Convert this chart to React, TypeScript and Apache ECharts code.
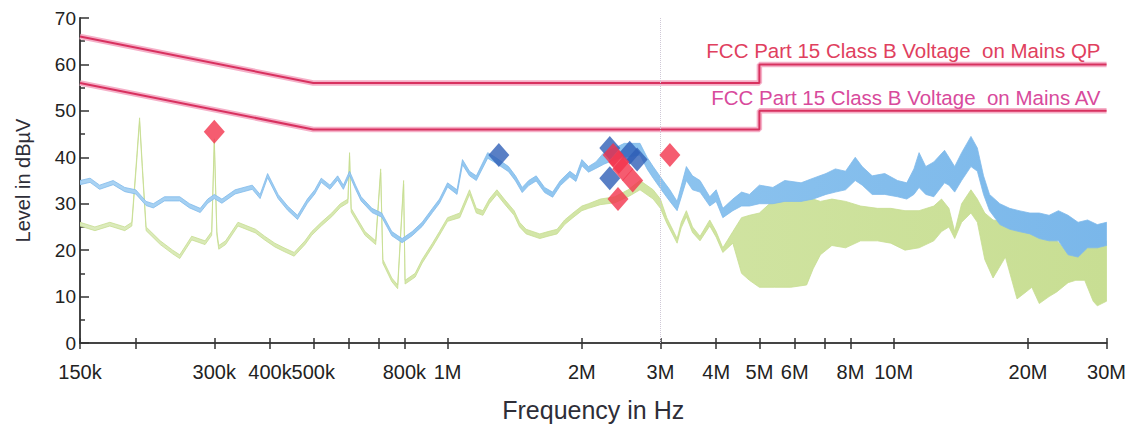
import React, { useEffect, useRef } from 'react';
import * as echarts from 'echarts';

// ---- axis ticks / labels ----
const xTickValues = [150e3, 200e3, 300e3, 400e3, 500e3, 600e3, 700e3, 800e3, 1e6, 2e6, 3e6, 4e6, 5e6, 6e6, 7e6, 8e6, 10e6, 20e6, 30e6];
const xLabelValues = [150e3, 300e3, 400e3, 500e3, 800e3, 1e6, 2e6, 3e6, 4e6, 5e6, 6e6, 8e6, 10e6, 20e6, 30e6];

// ---- limit lines (Hz, dBµV) ----
const qpLimit = [[150e3, 66], [500e3, 56], [5e6, 56], [5e6, 60], [30e6, 60]];
const avLimit = [[150e3, 56], [500e3, 46], [5e6, 46], [5e6, 50], [30e6, 50]];
const qpLabel = 'FCC Part 15 Class B Voltage  on Mains QP';
const avLabel = 'FCC Part 15 Class B Voltage  on Mains AV';

// ---- blue (peak) pre-scan trace: freq in kHz, upper / lower envelope ----
const blueFreqK = [150, 158, 166, 178, 189, 200, 211, 219, 232, 251, 264, 279, 290, 300, 312, 334, 365, 380, 395, 417, 438, 461, 485, 504, 521, 545, 567, 584, 603, 622, 640, 677, 712, 750, 791, 833, 877, 925, 959, 1000, 1050, 1080, 1120, 1160, 1230, 1280, 1370, 1420, 1470, 1520, 1580, 1650, 1720, 1790, 1880, 1940, 2000, 2070, 2150, 2240, 2370, 2490, 2700, 2800, 2890, 3040, 3150, 3270, 3430, 3540, 3680, 3870, 4000, 4140, 4360, 4560, 4750, 5000, 5360, 5700, 6200, 6600, 7050, 7400, 7800, 8200, 8500, 8950, 9550, 10200, 10700, 11100, 11400, 11800, 12300, 13000, 13300, 13700, 14200, 14900, 15400, 15900, 16400, 17300, 18200, 19100, 20200, 21200, 22300, 23400, 24600, 25900, 27200, 28600, 30000];
const blueHi = [35, 35.5, 34, 35, 33.5, 33, 30.5, 30, 31.5, 31.5, 30, 29, 31, 32, 31, 33, 34, 32, 36.5, 32, 29.5, 27.5, 31, 33, 35.5, 34, 36, 34, 37, 34, 31.5, 29, 28, 24, 22.5, 24, 26, 29, 31, 34.5, 33, 39.5, 37, 36, 41, 40, 38, 36, 33.5, 35, 36, 33.5, 32.5, 35, 37, 36, 39.5, 38, 39, 41, 42, 43, 43, 40, 38, 35, 33, 30.5, 38, 36, 35, 31.5, 33, 29, 31, 32.5, 32, 34, 33.5, 35, 34.5, 35.5, 36.5, 37.5, 37, 40, 38, 36, 36.5, 35, 34.5, 37.5, 41, 38, 39, 41.5, 40, 38, 41, 44.5, 42, 36, 32, 30, 29, 28.5, 28, 28, 27.5, 28.5, 27.5, 26, 26.5, 25.5, 26];
const blueLo = [34.1, 34.6, 33.1, 34.1, 32.6, 32.1, 29.6, 29.1, 30.6, 30.6, 29.1, 28.1, 30.1, 31.1, 30.1, 32.1, 33.1, 31.1, 35.6, 31.1, 28.6, 26.6, 30.1, 32.1, 34.6, 33.1, 35.1, 33.1, 36.1, 33.1, 30.6, 28.1, 27.1, 23.1, 21.6, 23.1, 25.1, 28.1, 30.1, 33.6, 32, 38.4, 36, 35, 39.8, 38.8, 36.9, 34.9, 32.4, 33.9, 34.9, 32.4, 31.4, 33.9, 35.8, 34.8, 38.2, 36.8, 37.6, 38.5, 39.5, 40, 40.5, 37.5, 35.5, 32.5, 30.5, 28.5, 35, 33, 32.5, 29.5, 30.5, 27, 28.5, 29.5, 29.5, 30, 30, 30.5, 30.5, 31, 32, 32.5, 33, 35, 34, 32, 32, 31.5, 31, 32, 33.5, 32, 31.5, 34.5, 34, 32.5, 35, 38, 37, 32, 28.5, 25.5, 24.5, 24, 23.5, 22.5, 22, 22, 19, 18.5, 20.5, 20.5, 21];

// ---- green (average) pre-scan trace ----
const greenFreqK = [150, 162, 175, 189, 196, 201, 204, 207, 211, 227, 242, 251, 267, 286, 296, 300, 304, 307, 318, 339, 371, 389, 410, 430, 453, 479, 496, 521, 550, 575, 598, 603, 608, 653, 690, 708, 716, 750, 773, 797, 803, 846, 877, 925, 959, 1000, 1065, 1120, 1160, 1200, 1240, 1290, 1340, 1410, 1450, 1500, 1610, 1680, 1760, 1830, 1910, 2000, 2070, 2200, 2370, 2540, 2700, 2890, 3000, 3100, 3270, 3340, 3430, 3540, 3680, 3870, 4000, 4140, 4360, 4560, 4750, 5000, 5410, 5880, 6380, 6600, 6850, 7270, 7800, 8430, 9200, 9850, 10600, 11400, 12300, 12800, 13300, 13700, 14200, 14900, 15400, 16000, 16700, 17800, 18900, 19800, 20400, 21200, 22300, 23200, 24600, 25600, 26800, 28000, 28600, 30000];
const greenHi = [26, 25, 26, 25, 26, 40, 48.5, 38, 25, 22, 20, 19, 23, 22, 24, 44, 24, 21, 22, 26, 24.5, 23, 21.5, 20.5, 19.5, 22, 24, 26, 28, 30, 31, 41, 29, 24, 22, 37.5, 18, 14, 12.5, 35, 13.5, 15, 18, 21.5, 24, 27, 28, 33, 29, 28.5, 31, 33, 31, 28.5, 26, 24.5, 23.5, 24, 24.5, 26.5, 28, 29.5, 30, 31, 31.5, 33, 35, 33, 31, 27, 22.5, 26, 28.5, 25, 23, 26.5, 24, 20.5, 24, 27, 27.5, 28, 31, 31.5, 31, 31, 30.5, 31, 30.5, 29.5, 29, 29, 28.5, 28.5, 29.5, 31, 29, 24, 30, 33, 31, 28, 26.5, 26, 25, 25, 24.5, 24, 23, 22, 19.5, 21, 22, 21.5, 21.5, 22];
const greenLo = [25.2, 24.2, 25.2, 24.2, 25.2, 39.2, 47.7, 37.2, 24.2, 21.2, 19.2, 18.2, 22.2, 21.2, 23.2, 43.2, 23.2, 20.2, 21.2, 25.2, 23.7, 22.2, 20.7, 19.7, 18.7, 21.2, 23.2, 25.2, 27.2, 29.2, 30.2, 40.2, 28.2, 23.2, 21.2, 36.7, 17.2, 13.2, 11.7, 34.2, 12.7, 14.2, 17.2, 20.7, 23.2, 26.2, 27, 32, 28, 27.5, 30, 32, 30, 27.5, 25, 23.5, 22.5, 23, 23.5, 25.5, 27, 28.5, 29, 29.8, 30.2, 31.5, 33, 31, 29, 25.8, 21.5, 24.8, 27.2, 23.8, 22, 25.2, 22.8, 19.5, 21.5, 15, 13.5, 12, 12, 12, 12.5, 16, 19, 21, 20.5, 22, 22, 21.5, 20, 20.5, 22, 24, 25, 22.5, 26, 28, 26, 18, 14, 18.5, 9.5, 11, 12, 8.5, 10, 11, 13, 13.5, 13.5, 9, 8, 9];

// ---- final measurement markers (Hz, dBµV) ----
const blueMarkers = [[1.303e6, 40.5], [2.31e6, 42], [2.56e6, 41], [2.66e6, 39.5], [2.31e6, 35.5]];
const redMarkers = [[300e3, 45.5], [2.35e6, 40.5], [2.42e6, 39], [2.47e6, 37.5], [2.6e6, 35], [2.41e6, 31], [3.15e6, 40.5]];

const FONT = '"Liberation Sans", Arial, sans-serif';

const fmtFreq = (v: number) => (v >= 1e6 ? `${Math.round(v / 1e6)}M` : `${Math.round(v / 1e3)}k`);

function bandSeries(freqK: number[], hi: number[], lo: number[], fill: any, stroke: any, z: number) {
  const data = freqK.map((f, i) => [f * 1000, hi[i], lo[i]]);
  return {
    type: 'custom',
    data,
    z,
    silent: true,
    clip: true,
    encode: { x: 0, y: [1, 2] },
    renderItem: (params: any, api: any) => {
      if (params.dataIndex !== 0) return null;
      const top = data.map((d) => api.coord([d[0], d[1]]));
      const bot = data.map((d) => api.coord([d[0], d[2]])).reverse();
      return {
        type: 'polygon',
        shape: { points: top.concat(bot) },
        style: { fill, stroke, lineWidth: 0.8 },
      };
    },
  };
}

function limitSeries(pts: number[][], label: string, textColor: string) {
  const data = pts.map((p, i) =>
    i === pts.length - 1
      ? {
          value: p,
          label: {
            show: true,
            position: 'top',
            distance: 3,
            align: 'right',
            offset: [-6, 0],
            formatter: label,
            color: textColor,
            fontSize: 20.5,
            fontFamily: FONT,
          },
        }
      : { value: p }
  );
  return [
    {
      type: 'line',
      data: pts,
      z: 3,
      silent: true,
      symbol: 'none',
      lineStyle: { color: '#f5b0c8', width: 5.5 },
    },
    {
      type: 'line',
      data,
      z: 4,
      silent: true,
      symbol: 'circle',
      symbolSize: 0.01,
      showSymbol: true,
      itemStyle: { color: 'rgba(0,0,0,0)' },
      lineStyle: { color: '#d8315f', width: 2 },
    },
  ];
}

export default function App() {
  const ref = useRef<HTMLDivElement>(null);
  useEffect(() => {
    if (!ref.current) return;
    const chart = echarts.init(ref.current, undefined, { renderer: 'svg' });
    const axisCommon = {
      type: 'log',
      logBase: 10,
      min: 150e3,
      max: 30e6,
      splitLine: { show: false },
      minorTick: { show: false },
      minorSplitLine: { show: false },
    };
    const blueFill = new echarts.graphic.LinearGradient(0, 0, 1, 0, [
      { offset: 0, color: '#aad3f3' },
      { offset: 0.5, color: '#8fc5ef' },
      { offset: 1, color: '#7ab7ea' },
    ]);
    const greenFill = new echarts.graphic.LinearGradient(0, 0, 1, 0, [
      { offset: 0, color: '#dcebbd' },
      { offset: 0.5, color: '#d2e5a5' },
      { offset: 1, color: '#c8de93' },
    ]);
    chart.setOption({
      animation: false,
      backgroundColor: '#ffffff',
      textStyle: { fontFamily: FONT },
      grid: { left: 80, right: 22, top: 18, bottom: 84 },
      xAxis: [
        {
          ...axisCommon,
          name: 'Frequency in Hz',
          nameLocation: 'middle',
          nameGap: 54,
          nameTextStyle: { fontSize: 25, color: '#2e2e38', fontFamily: FONT },
          axisLine: { show: true, lineStyle: { color: '#444', width: 2 } },
          axisTick: { show: true, inside: false, length: 6, lineStyle: { color: '#333', width: 1.5 }, customValues: xTickValues },
          axisLabel: { customValues: xLabelValues, formatter: fmtFreq, fontSize: 20, color: '#222', margin: 19, fontFamily: FONT },
        },
        {
          ...axisCommon,
          position: 'bottom',
          axisLine: { show: false },
          axisTick: { show: true, inside: true, length: 5, lineStyle: { color: '#333', width: 1.5 }, customValues: xTickValues },
          axisLabel: { show: false },
        },
      ],
      yAxis: {
        type: 'value',
        min: 0,
        max: 70,
        interval: 10,
        name: 'Level in dBµV',
        nameLocation: 'middle',
        nameGap: 47,
        nameRotate: 90,
        nameTextStyle: { fontSize: 20, color: '#2e2e38', fontFamily: FONT },
        axisLine: { show: true, lineStyle: { color: '#444', width: 2 } },
        axisTick: { show: true, inside: true, length: 9, lineStyle: { color: '#333', width: 1.5 } },
        minorTick: { show: true, splitNumber: 2, length: 5, lineStyle: { color: '#333', width: 1.5 } },
        axisLabel: { fontSize: 19, color: '#222', margin: 4, fontFamily: FONT },
        splitLine: { show: false },
      },
      series: [
        bandSeries(greenFreqK, greenHi, greenLo, greenFill, '#c6dd90', 1),
        bandSeries(blueFreqK, blueHi, blueLo, blueFill, '#80baeb', 2),
        ...limitSeries(qpLimit, qpLabel, '#e0405e'),
        ...limitSeries(avLimit, avLabel, '#d84a9c'),
        {
          type: 'scatter',
          data: blueMarkers,
          z: 5,
          symbol: 'diamond',
          symbolSize: [21, 24],
          itemStyle: { color: '#2f5fb6' },
          markLine: {
            silent: true,
            symbol: ['none', 'none'],
            label: { show: false },
            lineStyle: { color: '#cfc8d6', type: 'dotted', width: 1 },
            data: [{ xAxis: 3e6 }],
          },
        },
        {
          type: 'scatter',
          data: redMarkers,
          z: 6,
          symbol: 'diamond',
          symbolSize: [21, 24],
          itemStyle: { color: '#f2334c' },
        },
      ],
    });
    return () => chart.dispose();
  }, []);
  return <div ref={ref} style={{ position: 'absolute', left: 0, top: 0, width: 1129, height: 427 }} />;
}
